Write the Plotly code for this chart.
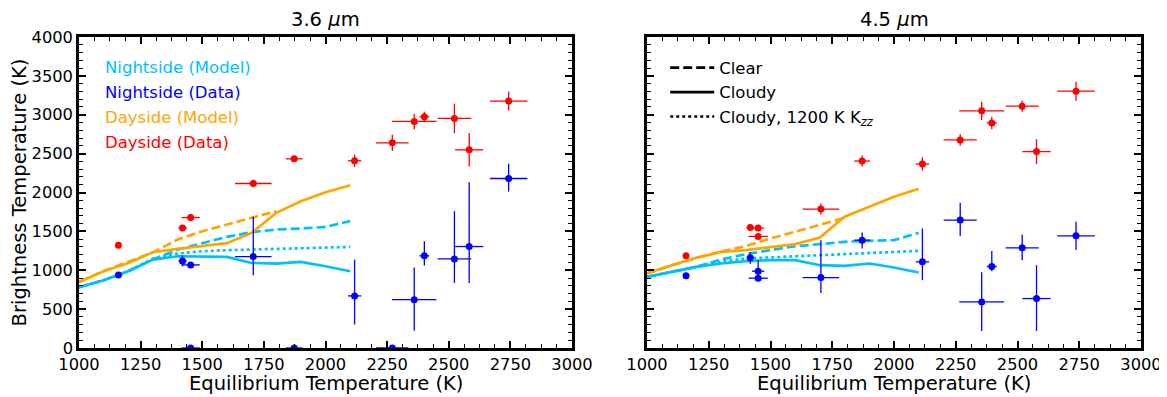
import plotly.graph_objects as go

# ---------------- data ----------------
# model grid (equilibrium temperature, K)
model_teq = [1000, 1100, 1200, 1300, 1400, 1500, 1600, 1700, 1800, 1900, 2000, 2100]
model_teq_clear_day = [1000, 1100, 1200, 1300, 1400, 1500, 1600, 1700, 1800]

# 3.6 micron models
day36_cloudy = [850, 987, 1094, 1232, 1275, 1309, 1348, 1480, 1738, 1888, 2004, 2094]
day36_clear = [850, 990, 1110, 1230, 1395, 1502, 1588, 1674, 1760]
night36_cloudy = [781, 871, 987, 1137, 1180, 1180, 1172, 1094, 1086, 1107, 1052, 987]
night36_clear = [781, 871, 990, 1140, 1266, 1352, 1429, 1489, 1524, 1536, 1558, 1631]
night36_kzz = [781, 871, 987, 1150, 1215, 1245, 1258, 1266, 1275, 1279, 1288, 1300]

# 4.5 micron models
day45_cloudy = [958, 1065, 1160, 1237, 1259, 1293, 1336, 1422, 1688, 1817, 1946, 2049]
day45_clear = [958, 1065, 1160, 1240, 1310, 1409, 1495, 1581, 1675]
night45_cloudy = [915, 979, 1044, 1087, 1117, 1130, 1130, 1065, 1057, 1087, 1035, 971]
night45_clear = [915, 979, 1044, 1138, 1207, 1259, 1310, 1336, 1366, 1379, 1387, 1482]
night45_kzz = [915, 979, 1044, 1108, 1151, 1164, 1181, 1194, 1207, 1216, 1229, 1250]

# 3.6 micron data
day36_teq = [1160, 1420, 1453, 1707, 1873, 2118, 2271, 2360, 2401, 2523, 2583, 2743]
day36_teq_err = [0, 17, 37, 74, 34, 27, 66, 90, 20, 68, 57, 76]
day36_tb = [1320, 1545, 1678, 2116, 2433, 2408, 2639, 2914, 2974, 2953, 2549, 3176]
day36_tb_err = [20, 30, 30, 50, 30, 80, 105, 100, 65, 190, 215, 122]

night36_teq = [1160, 1420, 1453, 1453, 1707, 1873, 2118, 2271, 2360, 2401, 2523, 2583, 2743]
night36_teq_err = [0, 17, 37, 37, 74, 34, 27, 66, 90, 20, 68, 57, 76]
night36_tb = [940, 1120, 1069, 0, 1176, 0, 670, 0, 622, 1185, 1146, 1305, 2180]
night36_tb_errp = [20, 70, 30, 0, 511, 0, 467, 0, 412, 188, 614, 828, 189]
night36_tb_errm = [20, 70, 30, 0, 240, 0, 370, 0, 399, 125, 309, 468, 167]

# 4.5 micron data
d45_teq = [1158, 1418, 1450, 1450, 1704, 1871, 2115, 2268, 2355, 2396, 2519, 2577, 2737]
d45_teq_err = [0, 15, 25, 39, 74, 32, 27, 67, 91, 20, 67, 57, 76]
day45_tb = [1186, 1551, 1542, 1435, 1787, 2405, 2367, 2676, 3050, 2895, 3110, 2526, 3303]
day45_tb_err = [20, 30, 30, 30, 70, 70, 86, 75, 116, 80, 70, 160, 122]
night45_tb = [928, 1160, 988, 898, 906, 1387, 1108, 1645, 593, 1048, 1289, 636, 1443]
night45_tb_errp = [20, 75, 142, 40, 481, 99, 430, 224, 382, 198, 171, 429, 181]
night45_tb_errm = [20, 75, 95, 40, 197, 107, 236, 206, 374, 60, 159, 417, 184]

x_ticks = [1000, 1250, 1500, 1750, 2000, 2250, 2500, 2750, 3000]
y_ticks = [0, 500, 1000, 1500, 2000, 2500, 3000, 3500, 4000]

# ---------------- style ----------------
CYAN = "#00BFFF"
BLUE = "#0000FF"
ORANGE = "#FFA500"
RED = "#FF0000"
LW = 2.7
DASH = "9px,4px"
DOT = "3px,3px"
FONT = "DejaVu Sans"
TICK_SIZE = 16.3
LABEL_SIZE = 19.5
KEY_SIZE = 16.5

fig = go.Figure()


def model(x, y, color, dash, xa, ya):
    fig.add_trace(go.Scatter(x=x, y=y, mode="lines", xaxis=xa, yaxis=ya,
                             line=dict(color=color, width=LW, dash=dash),
                             showlegend=False, hoverinfo="skip"))


def data(x, xerr, y, yerrp, yerrm, color, xa, ya):
    fig.add_trace(go.Scatter(
        x=x, y=y, mode="markers", xaxis=xa, yaxis=ya,
        marker=dict(color=color, size=7),
        error_x=dict(type="data", array=xerr, width=0, thickness=1.3, color=color),
        error_y=dict(type="data", array=yerrp, arrayminus=yerrm, symmetric=False,
                     width=0, thickness=1.3, color=color),
        showlegend=False))


# left panel: 3.6 um
model(model_teq, night36_kzz, CYAN, DOT, "x", "y")
model(model_teq, night36_clear, CYAN, DASH, "x", "y")
model(model_teq, night36_cloudy, CYAN, "solid", "x", "y")
model(model_teq_clear_day, day36_clear, ORANGE, DASH, "x", "y")
model(model_teq, day36_cloudy, ORANGE, "solid", "x", "y")
data(night36_teq, night36_teq_err, night36_tb, night36_tb_errp, night36_tb_errm, BLUE, "x", "y")
data(day36_teq, day36_teq_err, day36_tb, day36_tb_err, day36_tb_err, RED, "x", "y")

# right panel: 4.5 um
model(model_teq, night45_kzz, CYAN, DOT, "x2", "y2")
model(model_teq, night45_clear, CYAN, DASH, "x2", "y2")
model(model_teq, night45_cloudy, CYAN, "solid", "x2", "y2")
model(model_teq_clear_day, day45_clear, ORANGE, DASH, "x2", "y2")
model(model_teq, day45_cloudy, ORANGE, "solid", "x2", "y2")
data(d45_teq, d45_teq_err, night45_tb, night45_tb_errp, night45_tb_errm, BLUE, "x2", "y2")
data(d45_teq, d45_teq_err, day45_tb, day45_tb_err, day45_tb_err, RED, "x2", "y2")

# line-style legend (right panel)
for name, dash in [("Clear", DASH), ("Cloudy", "solid"), ("Cloudy, 1200 K K<sub><i>zz</i></sub>", DOT)]:
    fig.add_trace(go.Scatter(x=[None], y=[None], mode="lines", xaxis="x2", yaxis="y2",
                             line=dict(color="black", width=LW, dash=dash),
                             name=name, legend="legend2", legendgroup=name, showlegend=True))

axis_common = dict(showline=True, linewidth=2.5, linecolor="black", mirror="allticks",
                   ticks="inside", ticklen=7, tickwidth=1.5, tickcolor="black",
                   showgrid=False, zeroline=False, automargin=False,
                   tickfont=dict(family=FONT, size=TICK_SIZE, color="black"))

xaxis_common = dict(axis_common, range=[1000, 3000], tickvals=x_ticks,
                    minor=dict(ticks="inside", ticklen=4, tickwidth=1.2, tickcolor="black",
                               dtick=62.5, tick0=1000, showgrid=False))
yaxis_common = dict(axis_common, range=[0, 4000], tickvals=y_ticks,
                    minor=dict(ticks="inside", ticklen=4, tickwidth=1.2, tickcolor="black",
                               dtick=100, tick0=0, showgrid=False))

# the page body adds an 8 px offset; size the figure so the plot lands where the reference has it
OFF = 8
W, H = 1167 - OFF, 397 - OFF
L, R, T, B = 79 - OFF, 26, 37 - OFF, 49
pw = W - L - R
d1 = (572 - 79) / pw
d2 = (647 - 79) / pw

fig.update_layout(
    width=W, height=H, margin=dict(l=L, r=R, t=T, b=B, autoexpand=False),
    paper_bgcolor="white", plot_bgcolor="white",
    font=dict(family=FONT, color="black"),
    xaxis=dict(xaxis_common, domain=[0, d1], anchor="y"),
    yaxis=dict(yaxis_common, domain=[0, 1], anchor="x",
               title=dict(text="Brightness Temperature (K)", standoff=3,
                          font=dict(family=FONT, size=LABEL_SIZE, color="black"))),
    xaxis2=dict(xaxis_common, domain=[d2, 1], anchor="y2"),
    yaxis2=dict(yaxis_common, domain=[0, 1], anchor="x2", matches="y", showticklabels=False),
    legend2=dict(x=0.552, y=0.957, xanchor="left", yanchor="top", bgcolor="rgba(0,0,0,0)",
                 font=dict(family=FONT, size=KEY_SIZE, color="black"), itemwidth=44,
                 tracegroupgap=0),
    showlegend=True,
)

# panel titles and x-axis titles
for xr, yr, txt in [("x domain", "y domain", "3.6 <i>μ</i>m"), ("x2 domain", "y2 domain", "4.5 <i>μ</i>m")]:
    fig.add_annotation(xref=xr, yref=yr, x=0.5, y=1, yanchor="bottom", yshift=4,
                       text=txt, showarrow=False,
                       font=dict(family=FONT, size=LABEL_SIZE, color="black"))
    fig.add_annotation(xref=xr, yref=yr, x=0.5, y=0, yanchor="top", yshift=-22,
                       text="Equilibrium Temperature (K)", showarrow=False,
                       font=dict(family=FONT, size=LABEL_SIZE, color="black"))

# colour-key text (left panel)
for i, (txt, col) in enumerate([("Nightside (Model)", CYAN), ("Nightside (Data)", BLUE),
                                ("Dayside (Model)", ORANGE), ("Dayside (Data)", RED)]):
    fig.add_annotation(xref="x domain", yref="y domain", x=0.048, y=0.9035 - i * 0.0804,
                       xanchor="left", yanchor="middle", text=txt, showarrow=False,
                       font=dict(family=FONT, size=KEY_SIZE, color=col))

fig.write_html("out.html")
